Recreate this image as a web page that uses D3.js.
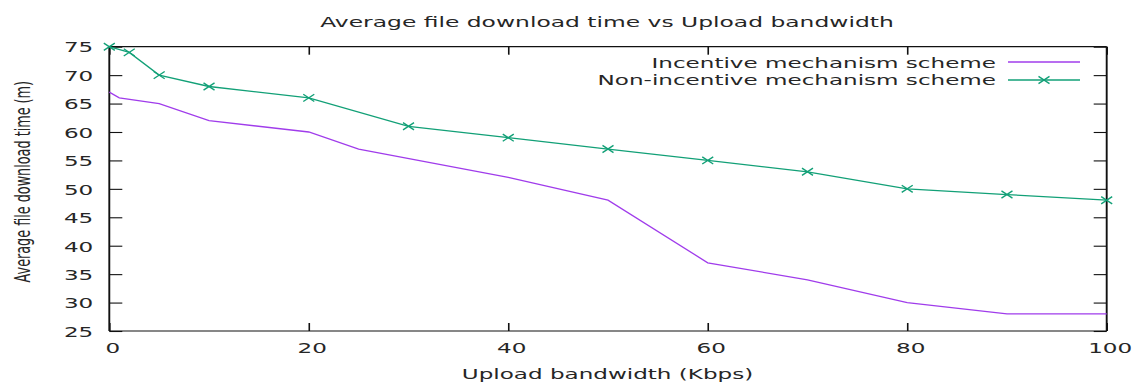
<!DOCTYPE html>
<html>
<head>
<meta charset="utf-8">
<script src="https://cdn.jsdelivr.net/npm/d3@7"></script>
<style>
  html, body { margin: 0; padding: 0; background: #fff; }
  svg { display: block; }
  text { font-family: "DejaVu Sans", sans-serif; fill: #262626; }
</style>
</head>
<body>
<svg id="chart" width="1136" height="383"></svg>
<script>
// Upload bandwidth (Kbps) and average download time (minutes) per scheme
const bandwidthIncentive = [0, 1, 5, 10, 20, 25, 40, 50, 60, 70, 80, 90, 100];
const timeIncentive      = [67, 66, 65, 62, 60, 57, 52, 48, 37, 34, 30, 28, 28];

const bandwidthNonIncentive = [0, 2, 5, 10, 20, 30, 40, 50, 60, 70, 80, 90, 100];
const timeNonIncentive      = [75, 74, 70, 68, 66, 61, 59, 57, 55, 53, 50, 49, 48];

const xTicks = [0, 20, 40, 60, 80, 100];
const yTicks = [25, 30, 35, 40, 45, 50, 55, 60, 65, 70, 75];

const seriesNames = ["Incentive mechanism scheme", "Non-incentive mechanism scheme"];

// layout
const plot = { left: 109.3, right: 1106.7, top: 46.7, bottom: 331 };
const sx = 1.57;            // horizontal stretch applied to glyphs
const fontSize = 14.7;
const colIncentive = "#a03ceb";
const colNon = "#12a077";

const svg = d3.select("#chart");

const x = d3.scaleLinear().domain([0, 100]).range([plot.left, plot.right]);
const y = d3.scaleLinear().domain([25, 75]).range([plot.bottom, plot.top]);

// axes with inward ticks
const gLeft = svg.append("g").attr("transform", `translate(${plot.left},0)`)
  .call(d3.axisLeft(y).tickValues(yTicks).tickSizeInner(-13).tickSizeOuter(0));
const gRight = svg.append("g").attr("transform", `translate(${plot.right},0)`)
  .call(d3.axisRight(y).tickValues(yTicks).tickSizeInner(-13).tickSizeOuter(0).tickFormat(""));
const gBottom = svg.append("g").attr("transform", `translate(0,${plot.bottom})`)
  .call(d3.axisBottom(x).tickValues(xTicks).tickSizeInner(-8).tickSizeOuter(0));
const gTop = svg.append("g").attr("transform", `translate(0,${plot.top})`)
  .call(d3.axisTop(x).tickValues(xTicks).tickSizeInner(-8).tickSizeOuter(0).tickFormat(""));

[gLeft, gRight, gBottom, gTop].forEach(g => {
  g.select(".domain").remove();
  g.selectAll(".tick line").attr("stroke", "#111");
});
gLeft.selectAll(".tick line").attr("stroke-width", 1.1);
gRight.selectAll(".tick line").attr("stroke-width", 1.1);
gBottom.selectAll(".tick line").attr("stroke-width", 1.6);
gTop.selectAll(".tick line").attr("stroke-width", 1.6);

gLeft.selectAll(".tick text")
  .attr("x", null).attr("dy", "0.36em")
  .attr("transform", `translate(-16,0) scale(${sx},1)`)
  .attr("text-anchor", "end")
  .style("font-family", "DejaVu Sans").style("font-size", fontSize + "px")
  .attr("fill", "#262626");

gBottom.selectAll(".tick text")
  .attr("y", null).attr("dy", null)
  .attr("transform", `translate(3,${353 - plot.bottom}) scale(${sx},1)`)
  .attr("text-anchor", "middle")
  .style("font-family", "DejaVu Sans").style("font-size", fontSize + "px")
  .attr("fill", "#262626");

// plot border
const border = svg.append("g").attr("stroke", "#111").attr("fill", "none");
border.append("line").attr("x1", plot.left).attr("x2", plot.right)
  .attr("y1", plot.top).attr("y2", plot.top).attr("stroke-width", 1.2);
border.append("line").attr("x1", plot.left).attr("x2", plot.right)
  .attr("y1", plot.bottom).attr("y2", plot.bottom).attr("stroke-width", 1.2);
border.append("line").attr("x1", plot.left).attr("x2", plot.left)
  .attr("y1", plot.top).attr("y2", plot.bottom).attr("stroke-width", 1.9);
border.append("line").attr("x1", plot.right).attr("x2", plot.right)
  .attr("y1", plot.top).attr("y2", plot.bottom).attr("stroke-width", 1.9);

// series lines
const line = d3.line().x(d => x(d[0])).y(d => y(d[1]));
const incentive = bandwidthIncentive.map((b, i) => [b, timeIncentive[i]]);
const nonIncentive = bandwidthNonIncentive.map((b, i) => [b, timeNonIncentive[i]]);

svg.append("path").datum(incentive).attr("d", line)
  .attr("fill", "none").attr("stroke", colIncentive).attr("stroke-width", 1.3);
svg.append("path").datum(nonIncentive).attr("d", line)
  .attr("fill", "none").attr("stroke", colNon).attr("stroke-width", 1.3);

// cross markers
const mw = 5.5, mh = 3.6;
function cross(g, cx, cy) {
  g.append("path")
    .attr("d", `M${cx - mw},${cy - mh}L${cx + mw},${cy + mh}M${cx - mw},${cy + mh}L${cx + mw},${cy - mh}`)
    .attr("stroke", colNon).attr("stroke-width", 1.4).attr("fill", "none");
}
const markers = svg.append("g");
nonIncentive.forEach(d => cross(markers, x(d[0]), y(d[1])));

// legend
const legend = svg.append("g");
const legendRows = [
  { name: seriesNames[0], color: colIncentive, marker: false, lineY: 62, baseY: 67.8 },
  { name: seriesNames[1], color: colNon, marker: true, lineY: 80, baseY: 85.4 }
];
legendRows.forEach(r => {
  legend.append("text")
    .attr("transform", `translate(996,${r.baseY}) scale(${sx},1)`)
    .attr("text-anchor", "end")
    .style("font-size", fontSize + "px")
    .text(r.name);
  legend.append("line").attr("x1", 1008).attr("x2", 1080)
    .attr("y1", r.lineY).attr("y2", r.lineY)
    .attr("stroke", r.color).attr("stroke-width", 1.3);
  if (r.marker) cross(legend, 1044, r.lineY);
});

// title and axis labels
svg.append("text")
  .attr("transform", `translate(607,26.7) scale(${sx},1)`)
  .attr("text-anchor", "middle")
  .style("font-size", "14.9px")
  .text("Average file download time vs Upload bandwidth");

svg.append("text")
  .attr("transform", `translate(607.5,379) scale(${sx},1)`)
  .attr("text-anchor", "middle")
  .style("font-size", fontSize + "px")
  .text("Upload bandwidth (Kbps)");

svg.append("text")
  .attr("transform", `translate(29.5,181.7) scale(1.68,1) rotate(-90)`)
  .attr("text-anchor", "middle")
  .style("font-size", "12.8px")
  .text("Average file download time (m)");
</script>
</body>
</html>
